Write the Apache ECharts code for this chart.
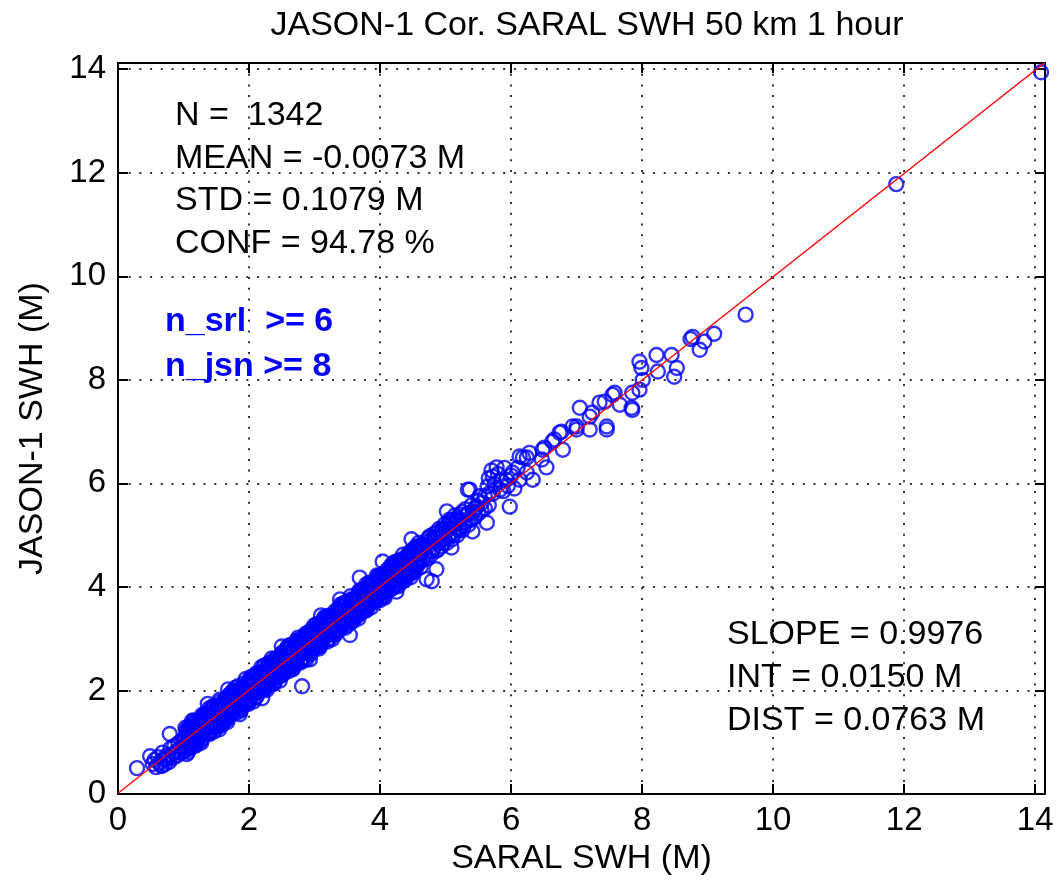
<!DOCTYPE html>
<html>
<head>
<meta charset="utf-8">
<script src="https://cdn.jsdelivr.net/npm/echarts@6/dist/echarts.min.js"></script>
<style>
html,body{margin:0;padding:0;background:#fff;}
#chart{width:1058px;height:883px;}
</style>
</head>
<body>
<div id="chart"></div>
<script>
// ---------------- data ----------------
const chartTitle = 'JASON-1 Cor. SARAL SWH 50 km 1 hour';
const xAxisName = 'SARAL SWH (M)';
const yAxisName = 'JASON-1 SWH (M)';
const statsLines = ['N =  1342', 'MEAN = -0.0073 M', 'STD = 0.1079 M', 'CONF = 94.78 %'];
const filterLines = ['n_srl  >= 6', 'n_jsn >= 8'];
const fitLines = ['SLOPE = 0.9976', 'INT = 0.0150 M', 'DIST = 0.0763 M'];
const fitSlope = 0.9976;
const fitInt = 0.0150;
const axisMax = 14.15;

// dense band of collocated pairs [SARAL SWH, JASON-1 SWH]
const bandLow = [
[0.29,0.50],[0.49,0.73],[0.53,0.58],[0.56,0.66],[0.58,0.52],[0.61,0.71],[0.63,0.60],[0.66,0.55],[0.68,0.80],[0.70,0.66],
[0.72,0.58],[0.74,0.74],[0.76,0.69],[0.78,0.62],[0.80,0.88],[0.82,0.76],[0.84,0.70],[0.86,0.93],[0.88,0.81],[0.90,0.74],
[0.92,0.98],[0.94,0.86],[0.96,0.80],[0.98,1.04],[1.00,0.92],[1.02,0.84]
];
const bandMain = [
[1.04,1.22],[1.04,1.00],[1.04,0.84],[1.08,1.16],[1.08,1.30],[1.08,0.96],[1.12,0.96],[1.12,1.14],[1.12,1.26],
[1.16,1.36],[1.16,1.08],[1.16,0.93],[1.20,1.18],[1.20,1.31],[1.20,1.03],[1.24,1.39],[1.24,1.11],[1.24,1.29],
[1.28,1.07],[1.28,1.37],[1.28,1.52],[1.32,1.33],[1.32,1.22],[1.32,1.51],[1.36,1.30],[1.36,1.52],[1.36,1.17],
[1.40,1.52],[1.40,1.16],[1.40,1.44],[1.44,1.30],[1.44,1.65],[1.44,1.43],[1.48,1.55],[1.48,1.30],[1.48,1.61],
[1.52,1.70],[1.52,1.48],[1.52,1.32],[1.56,1.64],[1.56,1.78],[1.56,1.44],[1.60,1.44],[1.60,1.62],[1.60,1.74],
[1.64,1.84],[1.64,1.56],[1.64,1.41],[1.68,1.66],[1.68,1.79],[1.68,1.51],[1.72,1.87],[1.72,1.59],[1.72,1.77],
[1.76,1.55],[1.76,1.85],[1.76,2.00],[1.80,1.81],[1.80,1.70],[1.80,1.99],[1.84,1.78],[1.84,2.00],[1.84,1.65],
[1.88,2.00],[1.88,1.64],[1.88,1.92],[1.92,1.78],[1.92,2.13],[1.92,1.91],[1.96,2.03],[1.96,1.78],[1.96,2.09],
[2.00,2.18],[2.00,1.96],[2.00,1.80],[2.04,2.12],[2.04,2.26],[2.04,1.92],[2.08,1.92],[2.08,2.10],[2.08,2.22],
[2.12,2.32],[2.12,2.04],[2.12,1.89],[2.16,2.14],[2.16,2.27],[2.16,1.99],[2.20,2.35],[2.20,2.07],[2.20,2.25],
[2.24,2.03],[2.24,2.33],[2.24,2.48],[2.28,2.29],[2.28,2.18],[2.28,2.47],[2.32,2.26],[2.32,2.48],[2.32,2.13],
[2.36,2.48],[2.36,2.12],[2.36,2.40],[2.40,2.26],[2.40,2.61],[2.40,2.39],[2.44,2.51],[2.44,2.26],[2.44,2.57],
[2.48,2.66],[2.48,2.44],[2.48,2.28],[2.52,2.60],[2.52,2.74],[2.52,2.40],[2.56,2.40],[2.56,2.58],[2.56,2.70],
[2.60,2.80],[2.60,2.52],[2.60,2.37],[2.64,2.62],[2.64,2.75],[2.64,2.47],[2.68,2.83],[2.68,2.55],[2.68,2.73],
[2.72,2.51],[2.72,2.81],[2.72,2.96],[2.76,2.77],[2.76,2.66],[2.76,2.95],[2.80,2.74],[2.80,2.96],[2.80,2.61],
[2.84,2.96],[2.84,2.60],[2.84,2.88],[2.88,2.74],[2.88,3.09],[2.88,2.87],[2.92,2.99],[2.92,2.74],[2.92,3.05],
[2.96,3.14],[2.96,2.92],[2.96,2.76],[3.00,3.08],[3.00,3.22],[3.00,2.88],[3.04,2.88],[3.04,3.06],[3.04,3.18],
[3.08,3.28],[3.08,3.00],[3.08,2.85],[3.12,3.10],[3.12,3.23],[3.12,2.95],[3.16,3.31],[3.16,3.03],[3.16,3.21],
[3.20,2.99],[3.20,3.29],[3.20,3.44],[3.24,3.25],[3.24,3.14],[3.24,3.43],[3.28,3.22],[3.28,3.44],[3.28,3.09],
[3.32,3.44],[3.32,3.08],[3.32,3.36],[3.36,3.22],[3.36,3.57],[3.36,3.35],[3.40,3.47],[3.40,3.22],[3.40,3.53],
[3.44,3.62],[3.44,3.40],[3.44,3.24],[3.48,3.56],[3.48,3.70],[3.48,3.36],[3.52,3.36],[3.52,3.54],[3.52,3.66],
[3.56,3.76],[3.56,3.48],[3.56,3.33],[3.60,3.58],[3.60,3.71],[3.60,3.43],[3.64,3.79],[3.64,3.51],[3.64,3.69],
[3.68,3.47],[3.68,3.77],[3.68,3.92],[3.72,3.73],[3.72,3.62],[3.72,3.91],[3.76,3.70],[3.76,3.92],[3.76,3.57],
[3.80,3.92],[3.80,3.56],[3.80,3.84],[3.84,3.70],[3.84,4.05],[3.84,3.83],[3.88,3.95],[3.88,3.70],[3.88,4.01],
[3.92,4.10],[3.92,3.88],[3.92,3.72],[3.96,4.04],[3.96,4.18],[3.96,3.84],[4.00,3.84],[4.00,4.02],[4.00,4.14],
[4.04,4.24],[4.04,3.96],[4.04,3.81],[4.08,4.06],[4.08,4.19],[4.08,3.91],[4.12,4.27],[4.12,3.99],[4.12,4.17],
[4.16,3.95],[4.16,4.25],[4.16,4.40],[4.20,4.21],[4.20,4.10],[4.20,4.39],[4.24,4.18],[4.24,4.40],[4.24,4.05],
[4.28,4.40],[4.28,4.04],[4.28,4.32],[4.32,4.18],[4.32,4.53],[4.32,4.31],[4.36,4.43],[4.36,4.18],[4.36,4.49],
[4.40,4.58],[4.40,4.36],[4.40,4.20],[4.44,4.52],[4.44,4.66],[4.44,4.32],[4.48,4.32],[4.48,4.50],[4.48,4.62],
[4.52,4.72],[4.52,4.44],[4.52,4.29],[4.56,4.54],[4.56,4.67],[4.56,4.39],[4.60,4.75],[4.60,4.47],[4.60,4.65]
];
const bandFill = [
[1.02,1.07],[1.02,0.88],[1.06,0.97],[1.06,1.23],[1.10,1.23],[1.10,1.07],[1.14,0.95],[1.14,1.21],[1.18,1.41],[1.18,1.07],
[1.22,1.17],[1.22,1.32],[1.26,1.28],[1.26,1.02],[1.30,1.35],[1.30,1.16],[1.34,1.25],[1.34,1.51],[1.38,1.51],[1.38,1.35],
[1.42,1.23],[1.42,1.49],[1.46,1.69],[1.46,1.35],[1.50,1.45],[1.50,1.60],[1.54,1.56],[1.54,1.30],[1.58,1.63],[1.58,1.44],
[1.62,1.53],[1.62,1.79],[1.66,1.79],[1.66,1.63],[1.70,1.51],[1.70,1.77],[1.74,1.97],[1.74,1.63],[1.78,1.73],[1.78,1.88],
[1.82,1.84],[1.82,1.58],[1.86,1.91],[1.86,1.72],[1.90,1.81],[1.90,2.07],[1.94,2.07],[1.94,1.91],[1.98,1.79],[1.98,2.05],
[2.02,2.25],[2.02,1.91],[2.06,2.01],[2.06,2.16],[2.10,2.12],[2.10,1.86],[2.14,2.19],[2.14,2.00],[2.18,2.09],[2.18,2.35],
[2.22,2.35],[2.22,2.19],[2.26,2.07],[2.26,2.33],[2.30,2.53],[2.30,2.19],[2.34,2.29],[2.34,2.44],[2.38,2.40],[2.38,2.14],
[2.42,2.47],[2.42,2.28],[2.46,2.37],[2.46,2.63],[2.50,2.63],[2.50,2.47],[2.54,2.35],[2.54,2.61],[2.58,2.81],[2.58,2.47],
[2.62,2.57],[2.62,2.72],[2.66,2.68],[2.66,2.42],[2.70,2.75],[2.70,2.56],[2.74,2.65],[2.74,2.91],[2.78,2.91],[2.78,2.75],
[2.82,2.63],[2.82,2.89],[2.86,3.09],[2.86,2.75],[2.90,2.85],[2.90,3.00],[2.94,2.96],[2.94,2.70],[2.98,3.03],[2.98,2.84],
[3.02,2.93],[3.02,3.19],[3.06,3.19],[3.06,3.03],[3.10,2.91],[3.10,3.17],[3.14,3.37],[3.14,3.03],[3.18,3.13],[3.18,3.28],
[3.22,3.24],[3.22,2.98],[3.26,3.31],[3.26,3.12],[3.30,3.21],[3.30,3.47],[3.34,3.47],[3.34,3.31],[3.38,3.19],[3.38,3.45],
[3.42,3.65],[3.42,3.31],[3.46,3.41],[3.46,3.56],[3.50,3.52],[3.50,3.26],[3.54,3.59],[3.54,3.40],[3.58,3.49],[3.58,3.75],
[3.62,3.75],[3.62,3.59],[3.66,3.47],[3.66,3.73],[3.70,3.93],[3.70,3.59],[3.74,3.69],[3.74,3.84],[3.78,3.80],[3.78,3.54],
[3.82,3.87],[3.82,3.68],[3.86,3.77],[3.86,4.03],[3.90,4.03],[3.90,3.87],[3.94,3.75],[3.94,4.01],[3.98,4.21],[3.98,3.87],
[4.02,3.97],[4.02,4.12],[4.06,4.08],[4.06,3.82],[4.10,4.15],[4.10,3.96],[4.14,4.05],[4.14,4.31],[4.18,4.31],[4.18,4.15],
[4.22,4.03],[4.22,4.29],[4.26,4.49],[4.26,4.15],[4.30,4.25],[4.30,4.40],[4.34,4.36],[4.34,4.10],[4.38,4.43],[4.38,4.24],
[4.42,4.33],[4.42,4.59],[4.46,4.59],[4.46,4.43],[4.50,4.31],[4.50,4.57],[4.54,4.77],[4.54,4.43],[4.58,4.53],[4.58,4.68],
[4.62,4.64],[4.62,4.38]
];
const bandEdge = [
[1.03,1.28],[1.07,0.81],[1.11,1.10],[1.15,1.42],[1.19,0.94],[1.23,1.33],[1.27,0.99],[1.31,1.53],[1.35,1.23],[1.39,1.65],
[1.43,1.68],[1.47,1.21],[1.51,1.50],[1.55,1.82],[1.59,1.34],[1.63,1.73],[1.67,1.39],[1.71,1.93],[1.75,1.63],[1.79,2.05],
[1.83,2.08],[1.87,1.61],[1.91,1.90],[1.95,2.22],[1.99,1.74],[2.03,2.13],[2.07,1.79],[2.11,2.33],[2.15,2.03],[2.19,2.45],
[2.23,2.48],[2.27,2.01],[2.31,2.30],[2.35,2.62],[2.39,2.14],[2.43,2.53],[2.47,2.19],[2.51,2.73],[2.55,2.43],[2.59,2.85],
[2.63,2.88],[2.67,2.41],[2.71,2.70],[2.75,3.02],[2.79,2.54],[2.83,2.93],[2.87,2.59],[2.91,3.13],[2.95,2.83],[2.99,3.25],
[3.03,3.28],[3.07,2.81],[3.11,3.10],[3.15,3.42],[3.19,2.94],[3.23,3.33],[3.27,2.99],[3.31,3.53],[3.35,3.23],[3.39,3.65],
[3.43,3.68],[3.47,3.21],[3.51,3.50],[3.55,3.82],[3.59,3.34],[3.63,3.73],[3.67,3.39],[3.71,3.93],[3.75,3.63],[3.79,4.05],
[3.83,4.08],[3.87,3.61],[3.91,3.90],[3.95,4.22],[3.99,3.74],[4.03,4.13],[4.07,3.79],[4.11,4.33],[4.15,4.03],[4.19,4.45],
[4.23,4.48],[4.27,4.01],[4.31,4.30],[4.35,4.62],[4.39,4.14],[4.43,4.53],[4.47,4.19],[4.51,4.73],[4.55,4.43],[4.59,4.85]
];
const bandCoreA = [
[1.01,1.04],[1.05,0.92],[1.09,1.26],[1.13,1.07],[1.17,1.26],[1.21,1.02],[1.25,1.37],[1.29,1.27],[1.33,1.54],[1.37,1.40],
[1.41,1.28],[1.45,1.62],[1.49,1.43],[1.53,1.62],[1.57,1.38],[1.61,1.73],[1.65,1.63],[1.69,1.90],[1.73,1.76],[1.77,1.64],
[1.81,1.98],[1.85,1.79],[1.89,1.98],[1.93,1.74],[1.97,2.09],[2.01,1.99],[2.05,2.26],[2.09,2.12],[2.13,2.00],[2.17,2.34],
[2.21,2.15],[2.25,2.34],[2.29,2.10],[2.33,2.45],[2.37,2.35],[2.41,2.62],[2.45,2.48],[2.49,2.36],[2.53,2.70],[2.57,2.51],
[2.61,2.70],[2.65,2.46],[2.69,2.81],[2.73,2.71],[2.77,2.98],[2.81,2.84],[2.85,2.72],[2.89,3.06],[2.93,2.87],[2.97,3.06],
[3.01,2.82],[3.05,3.17],[3.09,3.07],[3.13,3.34],[3.17,3.20],[3.21,3.08],[3.25,3.42],[3.29,3.23],[3.33,3.42],[3.37,3.18],
[3.41,3.53],[3.45,3.43],[3.49,3.70],[3.53,3.56],[3.57,3.44],[3.61,3.78],[3.65,3.59],[3.69,3.78],[3.73,3.54],[3.77,3.89],
[3.81,3.79],[3.85,4.06],[3.89,3.92],[3.93,3.80],[3.97,4.14],[4.01,3.95],[4.05,4.14],[4.09,3.90],[4.13,4.25],[4.17,4.15],
[4.21,4.42],[4.25,4.28],[4.29,4.16],[4.33,4.50],[4.37,4.31],[4.41,4.50],[4.45,4.26],[4.49,4.61],[4.53,4.51],[4.57,4.78],
[4.61,4.64]
];
const bandCoreB = [
[1.03,0.93],[1.07,1.21],[1.11,0.90],[1.15,1.21],[1.19,1.16],[1.23,1.42],[1.27,1.12],[1.31,1.21],[1.35,1.49],[1.39,1.18],
[1.43,1.49],[1.47,1.44],[1.51,1.70],[1.55,1.40],[1.59,1.49],[1.63,1.77],[1.67,1.46],[1.71,1.77],[1.75,1.72],[1.79,1.98],
[1.83,1.68],[1.87,1.77],[1.91,2.05],[1.95,1.74],[1.99,2.05],[2.03,2.00],[2.07,2.26],[2.11,1.96],[2.15,2.05],[2.19,2.33],
[2.23,2.02],[2.27,2.33],[2.31,2.28],[2.35,2.54],[2.39,2.24],[2.43,2.33],[2.47,2.61],[2.51,2.30],[2.55,2.61],[2.59,2.56],
[2.63,2.82],[2.67,2.52],[2.71,2.61],[2.75,2.89],[2.79,2.58],[2.83,2.89],[2.87,2.84],[2.91,3.10],[2.95,2.80],[2.99,2.89],
[3.03,3.17],[3.07,2.86],[3.11,3.17],[3.15,3.12],[3.19,3.38],[3.23,3.08],[3.27,3.17],[3.31,3.45],[3.35,3.14],[3.39,3.45],
[3.43,3.40],[3.47,3.66],[3.51,3.36],[3.55,3.45],[3.59,3.73],[3.63,3.42],[3.67,3.73],[3.71,3.68],[3.75,3.94],[3.79,3.64],
[3.83,3.73],[3.87,4.01],[3.91,3.70],[3.95,4.01],[3.99,3.96],[4.03,4.22],[4.07,3.92],[4.11,4.01],[4.15,4.29],[4.19,3.98],
[4.23,4.29],[4.27,4.24],[4.31,4.50],[4.35,4.20],[4.39,4.29],[4.43,4.57],[4.47,4.26],[4.51,4.57],[4.55,4.52],[4.59,4.78]
];
const bandHigh = [
[4.65,4.80],[4.65,4.52],[4.65,4.70],[4.70,4.60],[4.70,4.88],[4.74,4.95],[4.74,4.68],[4.74,4.80],[4.78,4.62],[4.78,4.90],
[4.82,5.02],[4.82,4.75],[4.82,4.88],[4.86,4.70],[4.86,5.05],[4.90,5.12],[4.90,4.85],[4.90,4.95],[4.94,4.78],[4.94,5.10],
[4.98,5.20],[4.98,4.92],[4.98,5.05],[5.02,4.85],[5.02,5.18],[5.06,5.25],[5.06,5.00],[5.06,5.12],[5.10,4.92],[5.10,5.30],
[5.14,5.38],[5.14,5.05],[5.14,5.20],[5.18,5.00],[5.18,5.32],[5.22,5.40],[5.22,5.15],[5.26,5.10],[5.26,5.45],[5.30,5.50],
[5.30,5.25],[5.35,5.20],[5.35,5.42],[5.40,5.58],[5.40,5.30],[5.45,5.35],[5.45,5.52],[5.50,5.66],[5.50,5.42],[5.55,5.48],
[5.55,5.62],[5.60,5.75],[5.60,5.52],[5.66,5.58],[5.66,5.80],
[4.68,4.75],[4.72,4.55],[4.76,4.98],[4.80,4.70],[4.84,4.95],[4.88,4.72],[4.92,5.02],[4.96,4.85],[5.00,5.12],[5.04,4.95],
[5.08,5.18],[5.12,5.00],[5.16,5.28],[5.20,5.10],[5.24,5.30],[5.28,5.18],[5.32,5.40],[5.38,5.30],[5.42,5.45],[5.48,5.55]
];
// sparse pairs at higher sea states and circles standing out of the band
const sparsePoints = [
[5.66,6.10],[5.70,6.25],[5.75,5.98],[5.80,6.18],[5.85,6.05],[5.90,6.30],[5.95,5.95],[6.00,6.15],[5.72,5.80],[5.88,5.85],
[5.78,6.31],[5.72,6.13],[5.93,6.07],[5.83,5.88],[5.98,5.55],[5.37,5.88],[5.52,5.75],[5.02,5.46],[5.06,5.30],[5.41,5.07],
[5.63,5.24],[6.02,6.21],[6.13,6.07],[6.33,6.07],[6.24,6.21],[6.18,6.50],[6.54,6.31],[6.47,6.46],[6.48,6.65],[6.79,6.65],
[6.63,6.81],[6.77,7.00],[7.00,7.10],[7.20,7.04],[7.46,7.04],[7.05,7.46],[7.24,7.37],[7.35,7.56],[7.55,7.71],[7.66,7.52],
[7.85,7.42],[7.58,7.75],[7.43,7.58],[7.46,7.10],[7.84,7.46],[6.13,6.52],[6.28,6.59],[6.66,6.85],[6.94,7.10],[6.74,6.98],
[6.51,6.69],[6.24,6.50],[7.20,7.29],[7.00,7.04],[6.05,5.90],[5.34,5.88],[5.64,5.94],[6.10,6.30],
[7.96,8.35],[7.99,8.23],[8.01,8.00],[7.96,7.81],[7.85,7.75],[8.22,8.48],[8.24,8.16],[8.45,8.48],[8.53,8.23],[8.49,8.06],
[8.74,8.79],[8.77,8.83],[8.88,8.58],[8.95,8.74],[9.10,8.89],[9.58,9.26],[11.88,11.78],[14.09,13.94],
[0.67,0.54],[1.05,0.77],[0.79,1.16],[1.13,1.41],[1.37,1.74],[1.68,2.02],[1.86,1.54],[2.81,2.08],[2.93,2.60],[3.54,3.07],
[3.39,3.76],[3.69,4.18],[4.04,4.49],[4.25,3.91],[4.79,4.11],[4.86,4.34],[4.71,4.15],[4.48,4.92],[5.09,4.76],[4.65,4.82],
[2.50,2.85],[2.20,1.85],[3.10,3.45],[1.55,1.25]
];

// ---------------- chart ----------------
const FONT = "'Liberation Sans', Arial, Helvetica, sans-serif";
const chart = echarts.init(document.getElementById('chart'), null, {renderer: 'canvas'});

const allPoints = bandLow.concat(bandMain, bandFill, bandEdge, bandCoreA, bandCoreB, bandHigh, sparsePoints);
const fitData = [[0, fitInt], [axisMax, fitSlope * axisMax + fitInt]];

function textBlock(lines, left, top0, step, style) {
  return lines.map((t, i) => ({
    type: 'text', left: left, top: top0 + i * step, z: 100,
    style: Object.assign({text: t, font: '34px ' + FONT, fill: '#000'}, style || {})
  }));
}

const gridLine = {show: true, lineStyle: {color: '#333', width: 2, type: [2, 8.7]}};
const labelFmt = v => (Math.abs(v - Math.round(v)) < 1e-6 && Math.round(v) % 2 === 0) ? String(Math.round(v)) : '';

const option = {
  backgroundColor: '#fff',
  animation: false,
  title: {
    text: chartTitle, left: 582, top: 4, textAlign: 'center',
    textStyle: {fontFamily: FONT, fontSize: 34, fontWeight: 'normal', color: '#000'}
  },
  grid: {left: 118, right: 13, top: 63, bottom: 89},
  xAxis: [{
    type: 'value', min: 0, max: axisMax, interval: 2, position: 'bottom',
    name: xAxisName, nameLocation: 'middle', nameGap: 46,
    nameTextStyle: {fontFamily: FONT, fontSize: 34, color: '#000'},
    axisLine: {show: true, onZero: false, lineStyle: {color: '#000', width: 2}},
    axisTick: {show: true, inside: true, length: 10, lineStyle: {color: '#000', width: 2}},
    axisLabel: {fontFamily: FONT, fontSize: 33, color: '#000', margin: 10, formatter: labelFmt, showMaxLabel: false},
    splitLine: gridLine
  }, {
    type: 'value', min: 0, max: axisMax, interval: 2, position: 'top',
    axisLine: {show: true, onZero: false, lineStyle: {color: '#000', width: 2}},
    axisTick: {show: true, inside: true, length: 10, lineStyle: {color: '#000', width: 2}},
    axisLabel: {show: false}, splitLine: {show: false}
  }],
  yAxis: [{
    type: 'value', min: 0, max: 14.12, interval: 2, position: 'left',
    name: yAxisName, nameLocation: 'middle', nameGap: 68, nameRotate: 90,
    nameTextStyle: {fontFamily: FONT, fontSize: 34, color: '#000'},
    axisLine: {show: true, onZero: false, lineStyle: {color: '#000', width: 2}},
    axisTick: {show: true, inside: true, length: 10, lineStyle: {color: '#000', width: 2}},
    axisLabel: {fontFamily: FONT, fontSize: 33, color: '#000', margin: 12, formatter: labelFmt, showMaxLabel: false},
    splitLine: gridLine
  }, {
    type: 'value', min: 0, max: 14.12, interval: 2, position: 'right',
    axisLine: {show: true, onZero: false, lineStyle: {color: '#000', width: 2}},
    axisTick: {show: true, inside: true, length: 10, lineStyle: {color: '#000', width: 2}},
    axisLabel: {show: false}, splitLine: {show: false}
  }],
  series: [{
    type: 'scatter', xAxisIndex: 0, yAxisIndex: 0, data: allPoints,
    symbol: 'circle', symbolSize: 14, z: 2, large: false,
    itemStyle: {color: 'rgba(0,0,0,0)', borderColor: '#0000ff', borderWidth: 2.4},
    emphasis: {disabled: true}
  }, {
    type: 'line', xAxisIndex: 0, yAxisIndex: 0, data: fitData, showSymbol: false, symbol: 'none', z: 3,
    lineStyle: {color: '#ff0000', width: 1.3}
  }],
  graphic: [].concat(
    textBlock(statsLines, 175, 99, 42.5),
    textBlock(filterLines, 165, 305, 45, {fill: '#0000ff', font: 'bold 34px ' + FONT}),
    textBlock(fitLines, 727, 618, 43)
  )
};
chart.setOption(option);
</script>
</body>
</html>
